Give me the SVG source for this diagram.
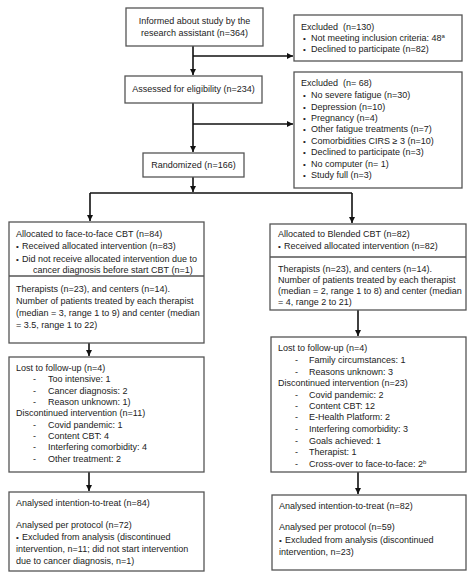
<svg xmlns="http://www.w3.org/2000/svg" width="474" height="580" viewBox="0 0 474 580">
<style>
rect.b{fill:#fff;stroke:#555;stroke-width:1.3}
line.d{stroke:#555;stroke-width:1.3}
text{font-family:"Liberation Sans",Arial,sans-serif;font-size:9px;fill:#222}
text.bu{font-size:8px}
.c{text-anchor:middle}
.pre{white-space:pre}
.cn path{fill:none;stroke:#111;stroke-width:1.6}
</style>
<defs>
<marker id="arr" markerUnits="userSpaceOnUse" markerWidth="7" markerHeight="6" refX="6" refY="3" orient="auto">
<path d="M0,0 L6,3 L0,6 z" fill="#111"/>
</marker>
</defs>
<rect width="474" height="580" fill="#fff"/>

<g id="connectors" class="cn">
<path d="M193,46 V75" marker-end="url(#arr)"/>
<path d="M193,56 H293" marker-end="url(#arr)"/>
<path d="M193,103 V152" marker-end="url(#arr)"/>
<path d="M193,124 H293" marker-end="url(#arr)"/>
<path d="M193,177 V192" marker-end="url(#arr)"/>
<path d="M90,193 H352"/>
<path d="M90,193 V221" marker-end="url(#arr)"/>
<path d="M352,193 V223" marker-end="url(#arr)"/>
<path d="M89,343 V356" marker-end="url(#arr)"/>
<path d="M358,310 V336" marker-end="url(#arr)"/>
<path d="M89,472 V491" marker-end="url(#arr)"/>
<path d="M358,472 V494" marker-end="url(#arr)"/>
</g>

<g id="informed">
<rect class="b" x="126" y="8" width="137" height="38"/>
<text class="c" x="194.5" y="24">Informed about study by the</text>
<text class="c" x="194.5" y="36">research assistant (n=364)</text>
</g>

<g id="excluded1">
<rect class="b" x="294" y="15" width="168" height="46"/>
<text class="pre" x="301" y="30">Excluded  (n=130)</text>
<text class="bu" x="303" y="41">•</text><text x="311" y="41">Not meeting inclusion criteria: 48<tspan font-size="6" dy="-3">a</tspan></text>
<text class="bu" x="303" y="52">•</text><text x="311" y="52">Declined to participate (n=82)</text>
</g>

<g id="assessed">
<rect class="b" x="125" y="76" width="137" height="27"/>
<text class="c" x="193.5" y="92">Assessed for eligibility (n=234)</text>
</g>

<g id="excluded2">
<rect class="b" x="294" y="72" width="168" height="116"/>
<text class="pre" x="301" y="86">Excluded  (n= 68)</text>
<text class="bu" x="303" y="98">•</text><text x="311" y="98">No severe fatigue (n=30)</text>
<text class="bu" x="303" y="109.5">•</text><text x="311" y="109.5">Depression (n=10)</text>
<text class="bu" x="303" y="120.5">•</text><text x="311" y="120.5">Pregnancy (n=4)</text>
<text class="bu" x="303" y="132">•</text><text x="311" y="132">Other fatigue treatments (n=7)</text>
<text class="bu" x="303" y="144">•</text><text x="311" y="144">Comorbidities CIRS ≥ 3 (n=10)</text>
<text class="bu" x="303" y="155">•</text><text x="311" y="155">Declined to participate (n=3)</text>
<text class="bu" x="303" y="166.5">•</text><text x="311" y="166.5">No computer (n= 1)</text>
<text class="bu" x="303" y="178">•</text><text x="311" y="178">Study full (n=3)</text>
</g>

<g id="randomized">
<rect class="b" x="143" y="153" width="101" height="24"/>
<text class="c" x="193.5" y="168">Randomized (n=166)</text>
</g>

<g id="alloc-ftf">
<rect class="b" x="9" y="222" width="195" height="121"/>
<line class="d" x1="9" y1="276" x2="204" y2="276"/>
<text x="16" y="237">Allocated to face-to-face CBT (n=84)</text>
<text class="bu" x="16" y="249">•</text><text x="22" y="249">Received allocated intervention (n=83)</text>
<text class="bu" x="16" y="262">•</text><text x="22" y="262">Did not receive allocated intervention due to</text>
<text x="33" y="273">cancer diagnosis before start CBT (n=1)</text>
<text x="16" y="292">Therapists (n=23), and centers (n=14).</text>
<text x="16" y="304">Number of patients treated by each therapist</text>
<text x="16" y="316">(median = 3, range 1 to 9) and center (median</text>
<text x="16" y="328">= 3.5, range 1 to 22)</text>
</g>

<g id="alloc-blended">
<rect class="b" x="270" y="224" width="196" height="86"/>
<line class="d" x1="270" y1="257" x2="466" y2="257"/>
<text x="278" y="237">Allocated to Blended CBT (n=82)</text>
<text class="bu" x="278" y="249">•</text><text x="284" y="249">Received allocated intervention (n=82)</text>
<text x="278" y="272">Therapists (n=23), and centers (n=14).</text>
<text x="278" y="283">Number of patients treated by each therapist</text>
<text x="278" y="294">(median = 2, range 1 to 8) and center (median</text>
<text x="278" y="305">= 4, range 2 to 21)</text>
</g>

<g id="lost-ftf">
<rect class="b" x="9" y="357" width="195" height="115"/>
<text x="16" y="371">Lost to follow-up (n=4)</text>
<text x="33" y="382">-</text><text x="48" y="382">Too intensive: 1</text>
<text x="33" y="393.5">-</text><text x="48" y="393.5">Cancer diagnosis: 2</text>
<text x="33" y="405">-</text><text x="48" y="405">Reason unknown: 1)</text>
<text x="16" y="416">Discontinued intervention (n=11)</text>
<text x="33" y="427.5">-</text><text x="48" y="427.5">Covid pandemic: 1</text>
<text x="33" y="439">-</text><text x="48" y="439">Content CBT: 4</text>
<text x="33" y="450">-</text><text x="48" y="450">Interfering comorbidity: 4</text>
<text x="33" y="461.5">-</text><text x="48" y="461.5">Other treatment: 2</text>
</g>

<g id="lost-blended">
<rect class="b" x="271" y="337" width="195" height="135"/>
<text x="278" y="351">Lost to follow-up (n=4)</text>
<text x="295" y="363">-</text><text x="309" y="363">Family circumstances: 1</text>
<text x="295" y="374.5">-</text><text x="309" y="374.5">Reasons unknown: 3</text>
<text x="278" y="386">Discontinued intervention (n=23)</text>
<text x="295" y="397.5">-</text><text x="309" y="397.5">Covid pandemic: 2</text>
<text x="295" y="409">-</text><text x="309" y="409">Content CBT: 12</text>
<text x="295" y="420">-</text><text x="309" y="420">E-Health Platform: 2</text>
<text x="295" y="432">-</text><text x="309" y="432">Interfering comorbidity: 3</text>
<text x="295" y="443.5">-</text><text x="309" y="443.5">Goals achieved: 1</text>
<text x="295" y="455">-</text><text x="309" y="455">Therapist: 1</text>
<text x="295" y="466.5">-</text><text x="309" y="466.5">Cross-over to face-to-face: 2<tspan font-size="6" dy="-3">b</tspan></text>
</g>

<g id="analysed-ftf">
<rect class="b" x="9" y="492" width="195" height="79"/>
<text x="16" y="506">Analysed intention-to-treat (n=84)</text>
<text x="16" y="528">Analysed per protocol (n=72)</text>
<text class="bu" x="16" y="540">•</text><text x="22" y="540">Excluded from analysis (discontinued</text>
<text x="16" y="552">intervention, n=11; did not start intervention</text>
<text x="16" y="564">due to cancer diagnosis, n=1)</text>
</g>

<g id="analysed-blended">
<rect class="b" x="272" y="495" width="194" height="75"/>
<text x="279" y="509">Analysed intention-to-treat (n=82)</text>
<text x="279" y="530">Analysed per protocol (n=59)</text>
<text class="bu" x="279" y="543">•</text><text x="285" y="543">Excluded from analysis (discontinued</text>
<text x="279" y="555">intervention, n=23)</text>
</g>
</svg>
